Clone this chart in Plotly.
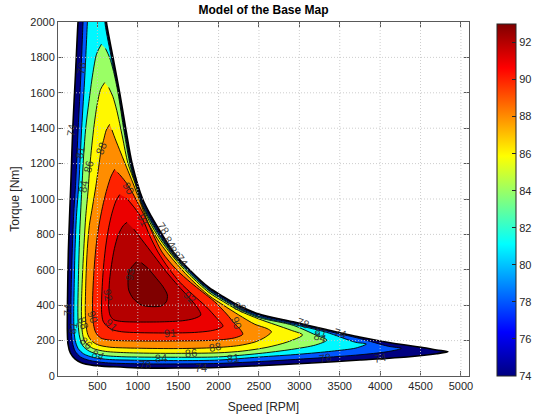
import plotly.graph_objects as go

# ---------------- data ----------------
levels = [74, 78, 81, 84, 86, 88, 90, 91, 92, 93]

# contour outlines in data units: speed [RPM] / torque [Nm]
c74_speed = [275, 260, 228, 195, 172, 155, 140, 132, 128, 128, 136, 165, 225, 300, 450, 700, 1000, 1500, 2000, 2500,
             3100, 3750, 4365, 4700, 4840, 4700, 4570, 4160, 3746, 3334, 2925, 2500, 2250, 2060, 1880, 1640, 1440,
             1300, 1170, 1060, 930, 850, 776, 693, 611, 597]
c74_torque = [2080, 2000, 1700, 1400, 1100, 900, 700, 500, 350, 250, 180, 130, 95, 75, 60, 52, 46, 45, 48, 58,
              72, 90, 109, 126, 137, 147, 158, 185, 220, 262, 306, 350, 398, 448, 500, 600, 700,
              800, 900, 1000, 1200, 1400, 1600, 1800, 2000, 2080]

c78_speed = [330, 322, 295, 262, 232, 205, 188, 176, 172, 175, 190, 225, 290, 400, 600, 1000, 1400, 2000, 2600, 3300,
             3800, 4100, 4262, 4100, 3746, 3334, 2925, 2500, 2250, 2060, 1880, 1640, 1440, 1290, 1160, 1050, 920,
             840, 766, 683, 601, 587]
c78_torque = [2080, 2000, 1700, 1400, 1100, 900, 700, 500, 350, 260, 190, 140, 108, 88, 75, 69, 68, 71, 84, 104,
              122, 138, 156, 168, 212, 255, 299, 343, 391, 441, 493, 593, 693, 793, 893, 993, 1193,
              1393, 1593, 1793, 1993, 2080]

c81_speed = [385, 376, 345, 305, 272, 240, 222, 212, 207, 210, 225, 262, 330, 450, 650, 1000, 1500, 2000, 2500, 3000,
             3400, 3700, 3830, 3700, 3334, 2925, 2500, 2250, 2060, 1880, 1640, 1440, 1285, 1155, 1045, 915, 835,
             761, 678, 596, 582]
c81_torque = [2080, 2000, 1700, 1400, 1100, 900, 700, 500, 350, 270, 200, 155, 125, 105, 93, 89, 87, 90, 107, 123,
              140, 158, 181, 190, 247, 292, 336, 384, 434, 486, 586, 686, 786, 886, 986, 1186, 1386,
              1586, 1786, 1986, 2080]

c84_speed = [550, 490, 440, 395, 355, 330, 312, 295, 280, 270, 262, 258, 262, 280, 320, 400, 550, 800, 1400, 2000,
             2500, 2900, 3200, 3340, 3200, 2925, 2500, 2250, 2060, 1880, 1640, 1440, 1280, 1150, 1040, 910, 830,
             755, 700, 650, 600]
c84_torque = [1875, 1820, 1700, 1550, 1400, 1250, 1100, 950, 800, 650, 500, 380, 290, 220, 170, 140, 118, 109, 106, 108,
              127, 150, 175, 203, 232, 286, 330, 379, 429, 482, 582, 682, 782, 882, 982, 1182, 1382,
              1600, 1720, 1800, 1850]

c86_speed = [590, 540, 495, 460, 430, 405, 385, 355, 335, 318, 305, 302, 310, 330, 364, 450, 600, 900, 1400, 2000,
             2300, 2600, 2850, 3040, 2900, 2700, 2500, 2250, 2060, 1880, 1640, 1440, 1275, 1145, 1040, 965, 879,
             810, 740, 690, 640]
c86_torque = [1658, 1620, 1530, 1420, 1300, 1180, 1050, 900, 750, 600, 450, 340, 260, 210, 182, 155, 139, 131, 128, 131,
              141, 162, 192, 232, 258, 290, 322, 370, 420, 472, 572, 672, 772, 872, 980, 1090, 1200,
              1350, 1500, 1580, 1630]

c88_speed = [652, 610, 575, 550, 515, 480, 440, 400, 375, 360, 352, 350, 358, 380, 425, 500, 650, 1000, 1500, 1950,
             2250, 2450, 2580, 2654, 2600, 2450, 2250, 2060, 1880, 1640, 1440, 1270, 1130, 1024, 940, 860, 790,
             720, 680]
c88_torque = [1422, 1390, 1330, 1288, 1180, 1070, 960, 850, 720, 580, 450, 360, 290, 235, 200, 177, 163, 157, 155, 160,
              172, 192, 220, 250, 268, 292, 345, 400, 455, 555, 655, 755, 865, 990, 1090, 1180, 1260,
              1340, 1390]

c90_speed = [714, 670, 620, 575, 530, 495, 468, 450, 440, 440, 452, 480, 540, 650, 1000, 1500, 1900, 2100, 2220, 2300,
             2270, 2200, 2100, 1950, 1800, 1650, 1480, 1300, 1190, 1110, 1020, 940, 860, 790, 750]
c90_torque = [1168, 1130, 1060, 980, 880, 780, 660, 540, 430, 350, 290, 245, 215, 203, 198, 198, 201, 208, 218, 236,
              262, 295, 350, 420, 475, 530, 600, 700, 800, 880, 960, 1030, 1090, 1130, 1150]

c91_speed = [776, 730, 680, 640, 605, 580, 562, 552, 552, 570, 620, 680, 800, 1000, 1400, 1700, 1900, 2010, 2055,
             1970, 1850, 1680, 1520, 1380, 1250, 1150, 1064, 960, 860]
c91_torque = [1025, 990, 920, 840, 740, 640, 530, 430, 360, 310, 280, 262, 250, 245, 243, 246, 255, 268, 282,
              330, 390, 460, 530, 610, 700, 790, 881, 950, 1005]

c92_speed = [866, 820, 760, 710, 675, 650, 640, 640, 655, 700, 800, 1000, 1300, 1550, 1700, 1780,
             1740, 1640, 1500, 1350, 1200, 1050, 950]
c92_torque = [868, 850, 800, 720, 630, 540, 450, 390, 345, 318, 308, 305, 306, 312, 325, 345,
              385, 440, 510, 590, 680, 770, 830]

c93_speed = [986, 900, 879, 887, 941, 1044, 1168, 1292, 1354, 1366, 1312, 1230, 1126, 1044]
c93_torque = [646, 599, 542, 486, 439, 401, 392, 396, 420, 458, 505, 552, 608, 640]

contour_speed = [c74_speed, c78_speed, c81_speed, c84_speed, c86_speed,
                 c88_speed, c90_speed, c91_speed, c92_speed, c93_speed]
contour_torque = [c74_torque, c78_torque, c81_torque, c84_torque, c86_torque,
                  c88_torque, c90_torque, c91_torque, c92_torque, c93_torque]

# contour labels (text, speed, torque, angle)
label_text = ["74", "78", "81", "84", "86", "88", "90", "91", "93", "92", "92", "91", "91", "90", "88", "86", "84",
              "78", "84", "74", "86", "88", "81", "90", "88", "78", "84", "88", "74", "78", "81", "84", "74", "78",
              "74", "74", "81"]
label_speed = [178, 302, 281, 320, 384, 550, 879, 1064, 900, 632, 1642, 1395, 673, 446, 322, 364, 508,
               1085, 1290, 1787, 1663, 1952, 2182, 2220, 2261, 1312, 1395, 1457, 1547, 3047, 3272, 3251, 3499, 3313,
               3994, 136, 198]
label_torque = [1390, 1740, 1260, 1070, 1183, 1287, 1060, 881, 571, 458, 448, 243, 288, 335, 298, 185, 119,
                62, 100, 47, 128, 166, 100, 298, 392, 834, 759, 702, 655, 298, 250, 222, 241, 100,
                100, 373, 270]
label_angle = [-80, -80, -80, -80, -75, -70, 60, 65, -80, 80, 45, -5, 45, 70, 70, 40, 20,
               0, -5, 0, -5, -10, -8, 70, 25, 55, 55, 55, 55, 20, 18, 18, 15, -10,
               -10, -90, -80]

x_ticks = [500, 1000, 1500, 2000, 2500, 3000, 3500, 4000, 4500, 5000]
y_ticks = [0, 200, 400, 600, 800, 1000, 1200, 1400, 1600, 1800, 2000]
cbar_ticks = [74, 76, 78, 80, 82, 84, 86, 88, 90, 92]
cmin, cmax = 74, 93


# ---------------- styling ----------------
def jet(v):
    t = (v - cmin) / (cmax - cmin)
    def c(x):
        return max(0.0, min(1.0, x))
    r = c(1.5 - abs(4 * t - 3))
    g = c(1.5 - abs(4 * t - 2))
    b = c(1.5 - abs(4 * t - 1))
    return "rgb(%d,%d,%d)" % (round(r * 255), round(g * 255), round(b * 255))


jet_scale = [[0, "rgb(0,0,128)"], [0.125, "rgb(0,0,255)"], [0.375, "rgb(0,255,255)"],
             [0.625, "rgb(255,255,0)"], [0.875, "rgb(255,0,0)"], [1, "rgb(128,0,0)"]]

FONT = "Liberation Sans, Arial, Helvetica, sans-serif"
AX = "#262626"
AXL = "#595959"

fig = go.Figure()
for lev, xs, ys in zip(levels, contour_speed, contour_torque):
    fig.add_trace(go.Scatter(
        x=xs, y=ys, mode="lines", fill="toself", fillcolor=jet(lev),
        line=dict(color="black", width=1.6 if lev == levels[0] else 0.9, shape="spline", smoothing=0.8),
        hoverinfo="skip", showlegend=False))

# colour bar
fig.add_trace(go.Scatter(
    x=[None], y=[None], mode="markers", showlegend=False, hoverinfo="skip",
    marker=dict(color=[cmin], cmin=cmin, cmax=cmax, colorscale=jet_scale, showscale=True,
                colorbar=dict(x=1.068, xanchor="left", xpad=0, y=0, yanchor="bottom", ypad=0,
                              len=0.994, lenmode="fraction", thickness=19, thicknessmode="pixels",
                              outlinewidth=1, outlinecolor=AX, tickvals=cbar_ticks, ticks="inside",
                              ticklen=4, tickcolor=AX,
                              tickfont=dict(family=FONT, size=11, color=AX)))))

for t, sx, ty, a in zip(label_text, label_speed, label_torque, label_angle):
    fig.add_annotation(x=sx, y=ty, text=t, showarrow=False, textangle=a,
                       font=dict(family=FONT, size=11, color="rgba(40,40,40,0.9)"))

grid_style = dict(color="rgba(200,200,200,0.9)", width=1, dash="1px,2px")
for xv in x_ticks:
    fig.add_shape(type="line", x0=xv, x1=xv, y0=0, y1=1, xref="x", yref="paper",
                  line=grid_style, layer="above")
for yv in y_ticks[1:-1]:
    fig.add_shape(type="line", x0=0, x1=1, y0=yv, y1=yv, xref="paper", yref="y",
                  line=grid_style, layer="above")

fig.update_layout(
    width=536, height=417,
    margin=dict(l=58, r=67, t=22, b=41, autoexpand=False),
    paper_bgcolor="white", plot_bgcolor="white",
    font=dict(family=FONT, size=11, color=AX),
    title=dict(text="<b>Model of the Base Map</b>", x=0.5, xref="paper", xanchor="center",
               y=1 - 10 / 417, yref="container", yanchor="middle",
               font=dict(family=FONT, size=12, color="black")),
    xaxis=dict(range=[12, 5100], tickvals=x_ticks, showgrid=False, zeroline=False,
               showline=True, linecolor=AXL, linewidth=1, mirror="ticks", ticks="inside", ticklen=5,
               tickcolor=AXL, layer="above traces",
               title=dict(text="Speed [RPM]", standoff=11, font=dict(size=12, color=AX))),
    yaxis=dict(range=[0, 2000], tickvals=y_ticks, showgrid=False, zeroline=False,
               showline=True, linecolor=AXL, linewidth=1, mirror="ticks", ticks="inside", ticklen=5,
               tickcolor=AXL, layer="above traces",
               title=dict(text="Torque [Nm]", standoff=8, font=dict(size=12, color=AX))),
)

fig.write_html("out.html")
